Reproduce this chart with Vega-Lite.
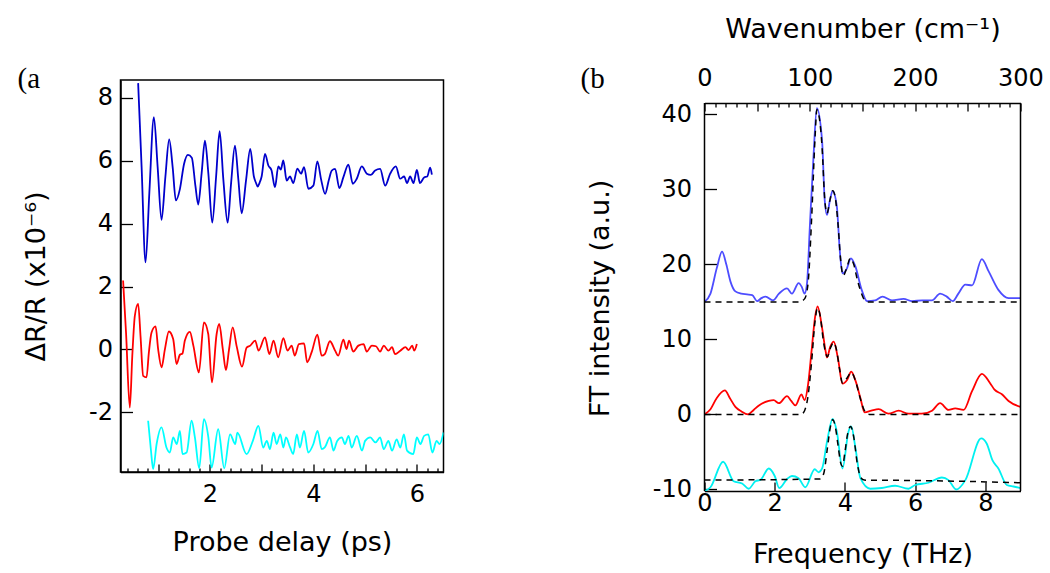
{
  "$schema": "https://vega.github.io/schema/vega-lite/v6.json",
  "padding": {"left": 16.5, "top": 15, "right": 5, "bottom": 5},
  "columns": 2,
  "align": "none",
  "spacing": 136,
  "config": {
    "font": "DejaVu Sans",
    "view": {"stroke": "black", "strokeWidth": 1.5},
    "axis": {
      "labelFont": "DejaVu Sans", "labelFontSize": 24, "labelColor": "black",
      "titleFont": "DejaVu Sans", "titleFontSize": 27, "titleFontWeight": "normal", "titleColor": "black",
      "tickColor": "black", "tickWidth": 1.3, "domainColor": "black", "domainWidth": 1.5,
      "grid": false, "labelOverlap": false, "labelFlush": false
    },
    "title": {"color": "black", "fontWeight": "normal"}
  },
  "resolve": {"scale": {"color": "independent"}},
  "datasets": {
    "tr": [
      {"t":0.613,"v":8.47,"s":"blue"},{"t":0.68,"v":5.8,"s":"blue"},{"t":0.756,"v":2.77,"s":"blue"},{"t":0.83,"v":5.0,"s":"blue"},{"t":0.917,"v":7.39,"s":"blue"},{"t":0.99,"v":5.8,"s":"blue"},{"t":1.065,"v":4.12,"s":"blue"},{"t":1.14,"v":5.5,"s":"blue"},{"t":1.213,"v":6.68,"s":"blue"},{"t":1.28,"v":5.8,"s":"blue"},{"t":1.342,"v":4.74,"s":"blue"},{"t":1.42,"v":5.1,"s":"blue"},{"t":1.5,"v":5.9,"s":"blue"},{"t":1.575,"v":6.19,"s":"blue"},{"t":1.65,"v":6.1,"s":"blue"},{"t":1.72,"v":5.2,"s":"blue"},{"t":1.774,"v":4.61,"s":"blue"},{"t":1.84,"v":5.6,"s":"blue"},{"t":1.904,"v":6.64,"s":"blue"},{"t":1.97,"v":5.6,"s":"blue"},{"t":2.045,"v":4.03,"s":"blue"},{"t":2.12,"v":5.5,"s":"blue"},{"t":2.188,"v":6.94,"s":"blue"},{"t":2.26,"v":5.4,"s":"blue"},{"t":2.343,"v":4.03,"s":"blue"},{"t":2.41,"v":5.3,"s":"blue"},{"t":2.484,"v":6.48,"s":"blue"},{"t":2.55,"v":5.4,"s":"blue"},{"t":2.614,"v":4.33,"s":"blue"},{"t":2.7,"v":5.4,"s":"blue"},{"t":2.78,"v":6.38,"s":"blue"},{"t":2.85,"v":5.5,"s":"blue"},{"t":2.89,"v":5.3,"s":"blue"},{"t":2.923,"v":5.18,"s":"blue"},{"t":2.96,"v":5.3,"s":"blue"},{"t":3.0,"v":5.5,"s":"blue"},{"t":3.065,"v":6.22,"s":"blue"},{"t":3.13,"v":5.85,"s":"blue"},{"t":3.19,"v":5.7,"s":"blue"},{"t":3.258,"v":5.16,"s":"blue"},{"t":3.322,"v":5.82,"s":"blue"},{"t":3.37,"v":5.72,"s":"blue"},{"t":3.419,"v":6.01,"s":"blue"},{"t":3.484,"v":5.37,"s":"blue"},{"t":3.548,"v":5.5,"s":"blue"},{"t":3.612,"v":5.29,"s":"blue"},{"t":3.69,"v":5.75,"s":"blue"},{"t":3.762,"v":5.59,"s":"blue"},{"t":3.82,"v":5.8,"s":"blue"},{"t":3.903,"v":5.11,"s":"blue"},{"t":4.0,"v":5.21,"s":"blue"},{"t":4.077,"v":5.98,"s":"blue"},{"t":4.15,"v":5.4,"s":"blue"},{"t":4.226,"v":4.95,"s":"blue"},{"t":4.3,"v":5.4,"s":"blue"},{"t":4.355,"v":5.69,"s":"blue"},{"t":4.42,"v":5.74,"s":"blue"},{"t":4.503,"v":5.13,"s":"blue"},{"t":4.58,"v":5.48,"s":"blue"},{"t":4.677,"v":5.88,"s":"blue"},{"t":4.762,"v":5.27,"s":"blue"},{"t":4.839,"v":5.43,"s":"blue"},{"t":4.936,"v":5.82,"s":"blue"},{"t":5.033,"v":5.59,"s":"blue"},{"t":5.11,"v":5.55,"s":"blue"},{"t":5.194,"v":5.69,"s":"blue"},{"t":5.29,"v":5.74,"s":"blue"},{"t":5.387,"v":5.21,"s":"blue"},{"t":5.484,"v":5.59,"s":"blue"},{"t":5.594,"v":5.82,"s":"blue"},{"t":5.677,"v":5.43,"s":"blue"},{"t":5.754,"v":5.5,"s":"blue"},{"t":5.81,"v":5.29,"s":"blue"},{"t":5.87,"v":5.5,"s":"blue"},{"t":5.935,"v":5.29,"s":"blue"},{"t":6.0,"v":5.71,"s":"blue"},{"t":6.06,"v":5.29,"s":"blue"},{"t":6.14,"v":5.47,"s":"blue"},{"t":6.2,"v":5.5,"s":"blue"},{"t":6.258,"v":5.78,"s":"blue"},{"t":6.29,"v":5.56,"s":"blue"},

      {"t":0.322,"v":2.19,"s":"red"},{"t":0.38,"v":0.5,"s":"red"},{"t":0.452,"v":-1.85,"s":"red"},{"t":0.5,"v":-0.2,"s":"red"},{"t":0.549,"v":1.07,"s":"red"},{"t":0.613,"v":1.45,"s":"red"},{"t":0.66,"v":0.4,"s":"red"},{"t":0.71,"v":-0.84,"s":"red"},{"t":0.775,"v":-0.89,"s":"red"},{"t":0.82,"v":-0.1,"s":"red"},{"t":0.872,"v":0.54,"s":"red"},{"t":0.95,"v":0.73,"s":"red"},{"t":1.0,"v":0.0,"s":"red"},{"t":1.065,"v":-0.57,"s":"red"},{"t":1.13,"v":0.0,"s":"red"},{"t":1.207,"v":0.57,"s":"red"},{"t":1.29,"v":0.33,"s":"red"},{"t":1.356,"v":-0.47,"s":"red"},{"t":1.42,"v":-0.17,"s":"red"},{"t":1.47,"v":-0.13,"s":"red"},{"t":1.516,"v":0.28,"s":"red"},{"t":1.613,"v":0.56,"s":"red"},{"t":1.68,"v":0.12,"s":"red"},{"t":1.787,"v":-0.73,"s":"red"},{"t":1.884,"v":0.86,"s":"red"},{"t":1.968,"v":0.49,"s":"red"},{"t":2.039,"v":-1.05,"s":"red"},{"t":2.13,"v":0.49,"s":"red"},{"t":2.18,"v":0.81,"s":"red"},{"t":2.25,"v":0.0,"s":"red"},{"t":2.31,"v":-0.66,"s":"red"},{"t":2.37,"v":0.0,"s":"red"},{"t":2.44,"v":0.7,"s":"red"},{"t":2.52,"v":0.08,"s":"red"},{"t":2.62,"v":-0.55,"s":"red"},{"t":2.71,"v":0.06,"s":"red"},{"t":2.78,"v":0.12,"s":"red"},{"t":2.875,"v":0.28,"s":"red"},{"t":2.94,"v":-0.04,"s":"red"},{"t":3.065,"v":0.38,"s":"red"},{"t":3.15,"v":-0.15,"s":"red"},{"t":3.23,"v":0.28,"s":"red"},{"t":3.32,"v":-0.25,"s":"red"},{"t":3.42,"v":0.36,"s":"red"},{"t":3.5,"v":-0.04,"s":"red"},{"t":3.58,"v":0.12,"s":"red"},{"t":3.64,"v":-0.2,"s":"red"},{"t":3.72,"v":0.17,"s":"red"},{"t":3.82,"v":0.19,"s":"red"},{"t":3.88,"v":-0.41,"s":"red"},{"t":3.97,"v":-0.07,"s":"red"},{"t":4.077,"v":0.47,"s":"red"},{"t":4.16,"v":-0.2,"s":"red"},{"t":4.22,"v":-0.15,"s":"red"},{"t":4.32,"v":0.26,"s":"red"},{"t":4.42,"v":-0.04,"s":"red"},{"t":4.48,"v":-0.2,"s":"red"},{"t":4.58,"v":0.31,"s":"red"},{"t":4.64,"v":0.01,"s":"red"},{"t":4.69,"v":0.28,"s":"red"},{"t":4.77,"v":-0.07,"s":"red"},{"t":4.87,"v":0.12,"s":"red"},{"t":4.97,"v":0.17,"s":"red"},{"t":5.03,"v":-0.07,"s":"red"},{"t":5.13,"v":0.12,"s":"red"},{"t":5.21,"v":0.1,"s":"red"},{"t":5.29,"v":-0.07,"s":"red"},{"t":5.36,"v":0.12,"s":"red"},{"t":5.45,"v":-0.04,"s":"red"},{"t":5.52,"v":0.07,"s":"red"},{"t":5.58,"v":-0.15,"s":"red"},{"t":5.68,"v":-0.04,"s":"red"},{"t":5.78,"v":0.07,"s":"red"},{"t":5.84,"v":-0.02,"s":"red"},{"t":5.91,"v":0.12,"s":"red"},{"t":5.95,"v":-0.04,"s":"red"},{"t":6.0,"v":0.17,"s":"red"},

      {"t":0.806,"v":-2.27,"s":"cyan"},{"t":0.86,"v":-3.2,"s":"cyan"},{"t":0.903,"v":-3.81,"s":"cyan"},{"t":0.97,"v":-3.01,"s":"cyan"},{"t":1.065,"v":-2.48,"s":"cyan"},{"t":1.16,"v":-3.12,"s":"cyan"},{"t":1.226,"v":-3.28,"s":"cyan"},{"t":1.29,"v":-2.8,"s":"cyan"},{"t":1.36,"v":-3.01,"s":"cyan"},{"t":1.42,"v":-2.59,"s":"cyan"},{"t":1.47,"v":-3.33,"s":"cyan"},{"t":1.55,"v":-3.28,"s":"cyan"},{"t":1.646,"v":-2.27,"s":"cyan"},{"t":1.71,"v":-2.8,"s":"cyan"},{"t":1.793,"v":-3.78,"s":"cyan"},{"t":1.884,"v":-2.22,"s":"cyan"},{"t":1.97,"v":-2.8,"s":"cyan"},{"t":2.033,"v":-3.76,"s":"cyan"},{"t":2.16,"v":-2.54,"s":"cyan"},{"t":2.277,"v":-3.78,"s":"cyan"},{"t":2.39,"v":-2.7,"s":"cyan"},{"t":2.49,"v":-3.01,"s":"cyan"},{"t":2.53,"v":-2.65,"s":"cyan"},{"t":2.71,"v":-3.33,"s":"cyan"},{"t":2.83,"v":-2.91,"s":"cyan"},{"t":2.937,"v":-2.43,"s":"cyan"},{"t":3.03,"v":-3.12,"s":"cyan"},{"t":3.1,"v":-2.91,"s":"cyan"},{"t":3.16,"v":-3.17,"s":"cyan"},{"t":3.23,"v":-2.65,"s":"cyan"},{"t":3.29,"v":-3.01,"s":"cyan"},{"t":3.36,"v":-2.7,"s":"cyan"},{"t":3.42,"v":-3.12,"s":"cyan"},{"t":3.47,"v":-2.8,"s":"cyan"},{"t":3.55,"v":-3.12,"s":"cyan"},{"t":3.61,"v":-3.33,"s":"cyan"},{"t":3.68,"v":-2.7,"s":"cyan"},{"t":3.74,"v":-3.12,"s":"cyan"},{"t":3.82,"v":-2.59,"s":"cyan"},{"t":3.9,"v":-3.28,"s":"cyan"},{"t":4.0,"v":-3.01,"s":"cyan"},{"t":4.08,"v":-2.59,"s":"cyan"},{"t":4.16,"v":-3.17,"s":"cyan"},{"t":4.22,"v":-3.12,"s":"cyan"},{"t":4.32,"v":-2.8,"s":"cyan"},{"t":4.39,"v":-3.22,"s":"cyan"},{"t":4.46,"v":-2.91,"s":"cyan"},{"t":4.55,"v":-2.8,"s":"cyan"},{"t":4.61,"v":-3.01,"s":"cyan"},{"t":4.68,"v":-2.75,"s":"cyan"},{"t":4.74,"v":-3.12,"s":"cyan"},{"t":4.84,"v":-2.75,"s":"cyan"},{"t":4.94,"v":-3.22,"s":"cyan"},{"t":5.0,"v":-2.91,"s":"cyan"},{"t":5.1,"v":-2.8,"s":"cyan"},{"t":5.2,"v":-2.96,"s":"cyan"},{"t":5.29,"v":-2.8,"s":"cyan"},{"t":5.36,"v":-3.17,"s":"cyan"},{"t":5.45,"v":-2.91,"s":"cyan"},{"t":5.52,"v":-3.22,"s":"cyan"},{"t":5.61,"v":-2.86,"s":"cyan"},{"t":5.68,"v":-3.12,"s":"cyan"},{"t":5.75,"v":-2.7,"s":"cyan"},{"t":5.81,"v":-3.22,"s":"cyan"},{"t":5.93,"v":-3.33,"s":"cyan"},{"t":6.0,"v":-2.8,"s":"cyan"},{"t":6.07,"v":-3.01,"s":"cyan"},{"t":6.14,"v":-2.75,"s":"cyan"},{"t":6.22,"v":-2.7,"s":"cyan"},{"t":6.3,"v":-3.28,"s":"cyan"},{"t":6.38,"v":-2.91,"s":"cyan"},{"t":6.44,"v":-3.01,"s":"cyan"},{"t":6.515,"v":-2.64,"s":"cyan"}
    ],
    "spec": [
      {"f":0,"I":15.0,"s":"B"},{"f":0.17,"I":16.1,"s":"B"},{"f":0.35,"I":19.5,"s":"B"},{"f":0.5,"I":21.7,"s":"B"},{"f":0.62,"I":20.0,"s":"B"},{"f":0.74,"I":17.7,"s":"B"},{"f":0.88,"I":16.4,"s":"B"},{"f":1.05,"I":16.1,"s":"B"},{"f":1.21,"I":16.0,"s":"B"},{"f":1.36,"I":15.9,"s":"B"},{"f":1.5,"I":15.1,"s":"B"},{"f":1.62,"I":15.5,"s":"B"},{"f":1.74,"I":15.7,"s":"B"},{"f":1.95,"I":15.2,"s":"B"},{"f":2.12,"I":16.1,"s":"B"},{"f":2.35,"I":16.8,"s":"B"},{"f":2.49,"I":16.1,"s":"B"},{"f":2.68,"I":17.5,"s":"B"},{"f":2.77,"I":17.0,"s":"B"},{"f":2.85,"I":16.1,"s":"B"},{"f":2.92,"I":17.5,"s":"B"},{"f":3.0,"I":25.0,"s":"B"},{"f":3.1,"I":34.0,"s":"B"},{"f":3.2,"I":40.8,"s":"B"},{"f":3.35,"I":36.4,"s":"B"},{"f":3.42,"I":28.8,"s":"B"},{"f":3.49,"I":26.6,"s":"B"},{"f":3.57,"I":28.5,"s":"B"},{"f":3.65,"I":29.8,"s":"B"},{"f":3.77,"I":27.7,"s":"B"},{"f":3.85,"I":22.0,"s":"B"},{"f":3.93,"I":18.8,"s":"B"},{"f":4.05,"I":19.4,"s":"B"},{"f":4.17,"I":20.8,"s":"B"},{"f":4.3,"I":19.7,"s":"B"},{"f":4.47,"I":16.7,"s":"B"},{"f":4.63,"I":15.1,"s":"B"},{"f":4.86,"I":15.2,"s":"B"},{"f":5.07,"I":15.7,"s":"B"},{"f":5.34,"I":15.2,"s":"B"},{"f":5.67,"I":15.4,"s":"B"},{"f":5.91,"I":15.1,"s":"B"},{"f":6.2,"I":15.2,"s":"B"},{"f":6.48,"I":15.2,"s":"B"},{"f":6.71,"I":16.1,"s":"B"},{"f":6.9,"I":15.7,"s":"B"},{"f":7.07,"I":15.1,"s":"B"},{"f":7.23,"I":16.1,"s":"B"},{"f":7.43,"I":17.3,"s":"B"},{"f":7.62,"I":17.2,"s":"B"},{"f":7.9,"I":20.7,"s":"B"},{"f":8.09,"I":19.1,"s":"B"},{"f":8.37,"I":16.6,"s":"B"},{"f":8.66,"I":15.5,"s":"B"},{"f":9.0,"I":15.5,"s":"B"},

      {"f":0,"I":0,"s":"R"},{"f":0.17,"I":0.7,"s":"R"},{"f":0.35,"I":2.2,"s":"R"},{"f":0.58,"I":3.2,"s":"R"},{"f":0.72,"I":2.2,"s":"R"},{"f":0.88,"I":1.0,"s":"R"},{"f":1.05,"I":0.4,"s":"R"},{"f":1.24,"I":0,"s":"R"},{"f":1.4,"I":0.6,"s":"R"},{"f":1.55,"I":1.2,"s":"R"},{"f":1.83,"I":1.8,"s":"R"},{"f":1.97,"I":1.9,"s":"R"},{"f":2.12,"I":1.5,"s":"R"},{"f":2.35,"I":2.45,"s":"R"},{"f":2.47,"I":1.8,"s":"R"},{"f":2.59,"I":1.2,"s":"R"},{"f":2.76,"I":2.67,"s":"R"},{"f":2.85,"I":1.9,"s":"R"},{"f":2.95,"I":4.0,"s":"R"},{"f":3.05,"I":8.5,"s":"R"},{"f":3.15,"I":13.0,"s":"R"},{"f":3.22,"I":14.4,"s":"R"},{"f":3.35,"I":11.5,"s":"R"},{"f":3.45,"I":8.4,"s":"R"},{"f":3.49,"I":7.6,"s":"R"},{"f":3.58,"I":9.0,"s":"R"},{"f":3.68,"I":9.7,"s":"R"},{"f":3.8,"I":7.5,"s":"R"},{"f":3.93,"I":4.1,"s":"R"},{"f":4.06,"I":4.6,"s":"R"},{"f":4.18,"I":5.7,"s":"R"},{"f":4.3,"I":4.5,"s":"R"},{"f":4.44,"I":2.2,"s":"R"},{"f":4.56,"I":0.27,"s":"R"},{"f":4.75,"I":0.5,"s":"R"},{"f":4.96,"I":0.7,"s":"R"},{"f":5.24,"I":0.1,"s":"R"},{"f":5.53,"I":0.5,"s":"R"},{"f":5.81,"I":0.1,"s":"R"},{"f":6.19,"I":0.1,"s":"R"},{"f":6.48,"I":0.5,"s":"R"},{"f":6.71,"I":1.5,"s":"R"},{"f":6.95,"I":0.6,"s":"R"},{"f":7.14,"I":0.8,"s":"R"},{"f":7.38,"I":0.6,"s":"R"},{"f":7.62,"I":3.1,"s":"R"},{"f":7.9,"I":5.4,"s":"R"},{"f":8.13,"I":4.2,"s":"R"},{"f":8.26,"I":3.3,"s":"R"},{"f":8.47,"I":2.7,"s":"R"},{"f":8.66,"I":1.8,"s":"R"},{"f":9.0,"I":1.0,"s":"R"},

      {"f":0,"I":-10.2,"s":"C"},{"f":0.17,"I":-9.7,"s":"C"},{"f":0.53,"I":-6.3,"s":"C"},{"f":0.83,"I":-8.9,"s":"C"},{"f":1.07,"I":-9.2,"s":"C"},{"f":1.26,"I":-9.9,"s":"C"},{"f":1.45,"I":-8.9,"s":"C"},{"f":1.6,"I":-8.7,"s":"C"},{"f":1.83,"I":-7.2,"s":"C"},{"f":2.0,"I":-8.2,"s":"C"},{"f":2.13,"I":-9.8,"s":"C"},{"f":2.35,"I":-8.6,"s":"C"},{"f":2.49,"I":-8.2,"s":"C"},{"f":2.68,"I":-8.5,"s":"C"},{"f":2.87,"I":-9.7,"s":"C"},{"f":3.14,"I":-7.3,"s":"C"},{"f":3.25,"I":-7.7,"s":"C"},{"f":3.35,"I":-7.2,"s":"C"},{"f":3.49,"I":-3.6,"s":"C"},{"f":3.65,"I":-0.6,"s":"C"},{"f":3.77,"I":-2.3,"s":"C"},{"f":3.93,"I":-7.2,"s":"C"},{"f":4.1,"I":-2.3,"s":"C"},{"f":4.18,"I":-1.6,"s":"C"},{"f":4.3,"I":-4.5,"s":"C"},{"f":4.44,"I":-8.5,"s":"C"},{"f":4.72,"I":-9.9,"s":"C"},{"f":5.05,"I":-9.8,"s":"C"},{"f":5.43,"I":-9.5,"s":"C"},{"f":5.81,"I":-9.9,"s":"C"},{"f":6.0,"I":-9.4,"s":"C"},{"f":6.38,"I":-9.1,"s":"C"},{"f":6.76,"I":-8.4,"s":"C"},{"f":6.95,"I":-8.75,"s":"C"},{"f":7.17,"I":-10.0,"s":"C"},{"f":7.43,"I":-8.75,"s":"C"},{"f":7.88,"I":-3.2,"s":"C"},{"f":8.04,"I":-3.9,"s":"C"},{"f":8.2,"I":-6.1,"s":"C"},{"f":8.37,"I":-7.2,"s":"C"},{"f":8.61,"I":-9.4,"s":"C"},{"f":8.8,"I":-9.6,"s":"C"},{"f":9.0,"I":-9.8,"s":"C"}
    ],
    "fit": [
      {"f":0,"I":15,"s":"B"},{"f":2.7,"I":15,"s":"B"},{"f":2.85,"I":15.4,"s":"B"},{"f":2.95,"I":17.5,"s":"B"},{"f":3.05,"I":26,"s":"B"},{"f":3.15,"I":37,"s":"B"},{"f":3.2,"I":40.6,"s":"B"},{"f":3.27,"I":39.5,"s":"B"},{"f":3.35,"I":35.5,"s":"B"},{"f":3.42,"I":29,"s":"B"},{"f":3.49,"I":26.8,"s":"B"},{"f":3.57,"I":28.5,"s":"B"},{"f":3.65,"I":29.8,"s":"B"},{"f":3.72,"I":29,"s":"B"},{"f":3.8,"I":25.5,"s":"B"},{"f":3.88,"I":20.5,"s":"B"},{"f":3.95,"I":18.5,"s":"B"},{"f":4.05,"I":19.5,"s":"B"},{"f":4.15,"I":20.8,"s":"B"},{"f":4.25,"I":20,"s":"B"},{"f":4.35,"I":18,"s":"B"},{"f":4.45,"I":16.4,"s":"B"},{"f":4.55,"I":15.3,"s":"B"},{"f":4.65,"I":15,"s":"B"},{"f":9,"I":15,"s":"B"},
      {"f":0,"I":0,"s":"R"},{"f":2.75,"I":0,"s":"R"},{"f":2.85,"I":0.5,"s":"R"},{"f":2.95,"I":2.5,"s":"R"},{"f":3.05,"I":7,"s":"R"},{"f":3.15,"I":12.5,"s":"R"},{"f":3.22,"I":14.2,"s":"R"},{"f":3.3,"I":13,"s":"R"},{"f":3.38,"I":10,"s":"R"},{"f":3.45,"I":8.2,"s":"R"},{"f":3.5,"I":7.7,"s":"R"},{"f":3.6,"I":9,"s":"R"},{"f":3.68,"I":9.6,"s":"R"},{"f":3.75,"I":8.8,"s":"R"},{"f":3.85,"I":6,"s":"R"},{"f":3.93,"I":4.2,"s":"R"},{"f":4.05,"I":4.8,"s":"R"},{"f":4.18,"I":5.6,"s":"R"},{"f":4.3,"I":4.5,"s":"R"},{"f":4.42,"I":2.4,"s":"R"},{"f":4.52,"I":0.9,"s":"R"},{"f":4.62,"I":0.1,"s":"R"},{"f":4.7,"I":0,"s":"R"},{"f":9,"I":0,"s":"R"},
      {"f":0,"I":-8.75,"s":"C"},{"f":3.3,"I":-8.6,"s":"C"},{"f":3.4,"I":-7.8,"s":"C"},{"f":3.5,"I":-4.5,"s":"C"},{"f":3.58,"I":-1.8,"s":"C"},{"f":3.65,"I":-0.7,"s":"C"},{"f":3.72,"I":-1.5,"s":"C"},{"f":3.8,"I":-4,"s":"C"},{"f":3.88,"I":-6.5,"s":"C"},{"f":3.93,"I":-6.9,"s":"C"},{"f":4.0,"I":-5,"s":"C"},{"f":4.08,"I":-2.5,"s":"C"},{"f":4.16,"I":-1.6,"s":"C"},{"f":4.25,"I":-3,"s":"C"},{"f":4.35,"I":-6.5,"s":"C"},{"f":4.45,"I":-8.4,"s":"C"},{"f":4.55,"I":-8.75,"s":"C"},{"f":6,"I":-8.8,"s":"C"},{"f":9,"I":-9.1,"s":"C"}
    ],
    "frame": [
      {"f":0,"lo":-10.2,"hi":41.5},{"f":9,"lo":-10.2,"hi":41.5}
    ]
  },
  "concat": [
    {
      "width": 323,
      "height": 392,
      "data": {"name": "tr"},
      "title": {"text": "(a", "anchor": "start", "frame": "group", "dx": -103, "offset": -14, "font": "Liberation Serif", "fontSize": 29},
      "mark": {"type": "line", "strokeWidth": 1.8, "interpolate": "monotone", "clip": true},
      "encoding": {
        "x": {
          "field": "t", "type": "quantitative",
          "scale": {"domain": [0.272, 6.515], "nice": false, "zero": false},
          "axis": {
            "title": "Probe delay (ps)",
            "values": [0.4,0.6,0.8,1,1.2,1.4,1.6,1.8,2,2.2,2.4,2.6,2.8,3,3.2,3.4,3.6,3.8,4,4.2,4.4,4.6,4.8,5,5.2,5.4,5.6,5.8,6,6.2,6.4],
            "tickSize": {"condition": {"test": "datum.value % 1 === 0", "value": -8}, "value": -4},
            "labelExpr": "datum.value % 2 === 0 ? '' + datum.value : ''",
            "labelPadding": 18.5,
            "titlePadding": 19
          }
        },
        "y": {
          "field": "v", "type": "quantitative",
          "scale": {"domain": [-3.9, 8.57], "nice": false, "zero": false},
          "axis": {
            "title": "ΔR/R (x10⁻⁶)",
            "values": [-2, 0, 2, 4, 6, 8],
            "tickSize": -12,
            "labelExpr": "datum.value < 0 ? '-' + abs(datum.value) : '' + datum.value",
            "labelPadding": 20,
            "titlePadding": 38
          }
        },
        "color": {
          "field": "s", "type": "nominal",
          "scale": {"domain": ["blue", "red", "cyan"], "range": ["#0000CC", "#FF0000", "#00FFFF"]},
          "legend": null
        }
      }
    },
    {
      "width": 316,
      "height": 411,
      "view": {"stroke": null},
      "title": {"text": "(b", "anchor": "start", "frame": "group", "dx": -124, "offset": 0, "dy": 79, "font": "Liberation Serif", "fontSize": 29},
      "resolve": {"scale": {"x": "independent"}},
      "layer": [
        {
          "layer": [
            {
              "data": {"name": "spec"},
              "mark": {"type": "line", "strokeWidth": 1.8, "interpolate": "monotone", "clip": true},
              "encoding": {
                "x": {
                  "field": "f", "type": "quantitative",
                  "scale": {"domain": [0, 9], "nice": false, "zero": false},
                  "axis": {
                    "orient": "bottom",
                    "title": "Frequency (THz)",
                    "values": [0,0.5,1,1.5,2,2.5,3,3.5,4,4.5,5,5.5,6,6.5,7,7.5,8,8.5,9],
                    "tickSize": {"condition": {"test": "datum.value % 2 === 0", "value": -9}, "value": -5},
                    "labelExpr": "datum.value % 2 === 0 ? '' + datum.value : ''",
                    "labelPadding": 9,
                    "titlePadding": 26
                  }
                },
                "y": {
                  "field": "I", "type": "quantitative",
                  "scale": {"domain": [-10.2, 44.565], "nice": false, "zero": false},
                  "axis": {
                    "title": "FT intensity (a.u.)",
                    "values": [-10, 0, 10, 20, 30, 40],
                    "tickSize": -12,
                    "domain": false,
                    "labelExpr": "datum.value < 0 ? '-' + abs(datum.value) : '' + datum.value",
                    "labelPadding": 25,
                    "titlePadding": 38,
                    "titleY": 218
                  }
                },
                "color": {
                  "field": "s", "type": "nominal",
                  "scale": {"domain": ["B", "R", "C"], "range": ["#4D4DFF", "#FF0000", "#00F0F0"]},
                  "legend": null
                }
              }
            },
            {
              "data": {"name": "fit"},
              "mark": {"type": "line", "strokeWidth": 1.5, "strokeDash": [6, 5], "color": "black", "interpolate": "monotone", "clip": true},
              "encoding": {
                "x": {"field": "f", "type": "quantitative"},
                "y": {"field": "I", "type": "quantitative"},
                "detail": {"field": "s", "type": "nominal"}
              }
            },
            {
              "data": {"name": "frame"},
              "mark": {"type": "rule", "color": "black", "strokeWidth": 1.5},
              "encoding": {
                "x": {"field": "f", "type": "quantitative"},
                "y": {"field": "lo", "type": "quantitative"},
                "y2": {"field": "hi"}
              }
            }
          ]
        },
        {
          "data": {"values": [{"wn": 0}, {"wn": 300}]},
          "mark": {"type": "point", "opacity": 0},
          "encoding": {
            "x": {
              "field": "wn", "type": "quantitative",
              "scale": {"domain": [0, 300.2], "nice": false, "zero": false},
              "axis": {
                "orient": "top",
                "offset": -23,
                "title": "Wavenumber (cm⁻¹)",
                "values": [0,10,20,30,40,50,60,70,80,90,100,110,120,130,140,150,160,170,180,190,200,210,220,230,240,250,260,270,280,290,300],
                "tickSize": {"condition": {"test": "datum.value % 50 === 0", "value": -8}, "value": -4},
                "labelExpr": "datum.value % 100 === 0 ? '' + datum.value : ''",
                "labelPadding": 21,
                "titlePadding": 19
              }
            }
          }
        }
      ]
    }
  ]
}
